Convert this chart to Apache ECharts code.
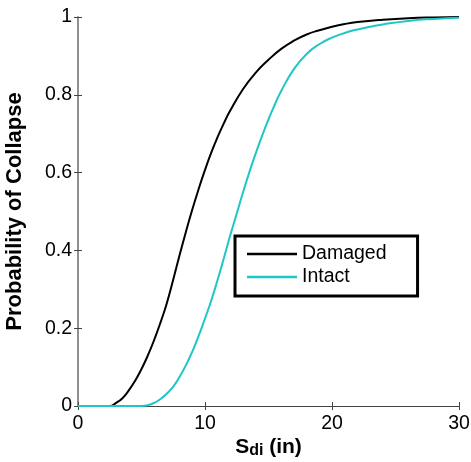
<!DOCTYPE html>
<html><head><meta charset="utf-8">
<script src="https://cdn.jsdelivr.net/npm/echarts@6/dist/echarts.min.js"></script>
<style>html,body{margin:0;padding:0;background:#fff}#c{width:471px;height:462px}</style>
</head><body><div id="c"></div>
<script>
var damagedX = [0, 2.5, 3, 3.5, 4, 4.5, 5, 5.5, 6, 6.5, 7, 7.5, 8, 8.5, 9, 9.5, 10, 10.5, 11, 11.5, 12, 13, 14, 15, 16, 17, 18, 19, 20, 21, 22, 24, 26, 28, 30];
var damagedY = [0, 0, 0.008, 0.02, 0.04, 0.065, 0.095, 0.13, 0.17, 0.215, 0.265, 0.325, 0.388, 0.448, 0.505, 0.558, 0.607, 0.652, 0.692, 0.728, 0.76, 0.815, 0.857, 0.89, 0.918, 0.939, 0.955, 0.966, 0.975, 0.982, 0.987, 0.993, 0.997, 0.999, 1];
var intactX = [0, 5, 5.5, 6, 6.5, 7, 7.5, 8, 8.5, 9, 9.5, 10, 10.5, 11, 11.5, 12, 12.5, 13, 13.5, 14, 14.5, 15, 15.5, 16, 17, 18, 19, 20, 21, 22, 23, 24, 26, 28, 30];
var intactY = [0, 0, 0.002, 0.008, 0.018, 0.032, 0.05, 0.075, 0.105, 0.14, 0.18, 0.225, 0.272, 0.325, 0.382, 0.44, 0.495, 0.55, 0.602, 0.65, 0.695, 0.737, 0.775, 0.81, 0.866, 0.905, 0.93, 0.947, 0.959, 0.968, 0.975, 0.981, 0.99, 0.995, 0.998];
var seriesNames = ['Damaged', 'Intact'];
var seriesColors = ['#000000', '#1ec6c6'];
var xTicks = [0, 10, 20, 30];
var yTicks = [0, 0.2, 0.4, 0.6, 0.8, 1];

function pairs(xs, ys) { return xs.map(function (x, i) { return [x, ys[i]]; }); }

var font = 'Liberation Sans, Arial, sans-serif';
var axisColor = '#444';
var chart = echarts.init(document.getElementById('c'));
chart.setOption({
  animation: false,
  grid: { left: 78, right: 12, top: 17, bottom: 56, containLabel: false, outerBoundsMode: 'none' },
  legend: {
    data: seriesNames,
    orient: 'vertical',
    left: 235, top: 236,
    icon: 'rect',
    itemWidth: 50, itemHeight: 2.5,
    itemGap: 1,
    padding: [7, 31, 8, 12],
    borderColor: '#000', borderWidth: 3,
    textStyle: { fontFamily: font, fontSize: 19.5, color: '#000', lineHeight: 22 }
  },
  xAxis: [{
    type: 'value', min: 0, max: 30, interval: 10,
    name: '{b|S}{s|di}{b| (in)}',
    nameLocation: 'middle', nameGap: 31, nameMoveOverlap: false,
    nameTextStyle: {
      verticalAlign: 'top',
      rich: {
        b: { fontFamily: font, fontSize: 21, fontWeight: 'bold', color: '#000', lineHeight: 22, verticalAlign: 'top' },
        s: { fontFamily: font, fontSize: 16, fontWeight: 'bold', color: '#000', lineHeight: 16, padding: [14, 0, 0, 0], verticalAlign: 'bottom' }
      }
    },
    axisLine: { show: true, onZero: false, lineStyle: { color: axisColor, width: 1 } },
    axisTick: { show: true, inside: true, length: 4, lineStyle: { color: axisColor } },
    axisLabel: { fontFamily: font, fontSize: 19.5, color: '#000', margin: 8 },
    splitLine: { show: false }
  }, {
    type: 'value', min: 0, max: 30, interval: 10, position: 'top',
    axisLine: { show: true, lineStyle: { color: axisColor, width: 1 } },
    axisTick: { show: true, inside: true, length: 4, lineStyle: { color: axisColor } },
    axisLabel: { show: false }, splitLine: { show: false }
  }],
  yAxis: [{
    type: 'value', min: 0, max: 1, interval: 0.2,
    name: 'Probability of Collapse',
    nameLocation: 'middle', nameGap: 52, nameRotate: 90, nameMoveOverlap: false,
    nameTextStyle: { fontFamily: font, fontSize: 22, fontWeight: 'bold', color: '#000' },
    axisLine: { show: true, onZero: false, lineStyle: { color: '#888', width: 1.5 } },
    axisTick: { show: true, inside: true, length: 4, lineStyle: { color: axisColor } },
    axisLabel: { fontFamily: font, fontSize: 19.5, color: '#000', margin: 6 },
    splitLine: { show: false }
  }, {
    type: 'value', min: 0, max: 1, interval: 0.2, position: 'right',
    axisLine: { show: true, lineStyle: { color: '#888', width: 1.5 } },
    axisTick: { show: true, inside: true, length: 4, lineStyle: { color: axisColor } },
    axisLabel: { show: false }, splitLine: { show: false }
  }],
  series: [{
    name: seriesNames[0], type: 'line', data: pairs(damagedX, damagedY),
    showSymbol: false, smooth: 0.5,
    lineStyle: { color: seriesColors[0], width: 2 }, itemStyle: { color: seriesColors[0] }
  }, {
    name: seriesNames[1], type: 'line', data: pairs(intactX, intactY),
    showSymbol: false, smooth: 0.5,
    lineStyle: { color: seriesColors[1], width: 2 }, itemStyle: { color: seriesColors[1] }
  }]
});
</script>
</body></html>
